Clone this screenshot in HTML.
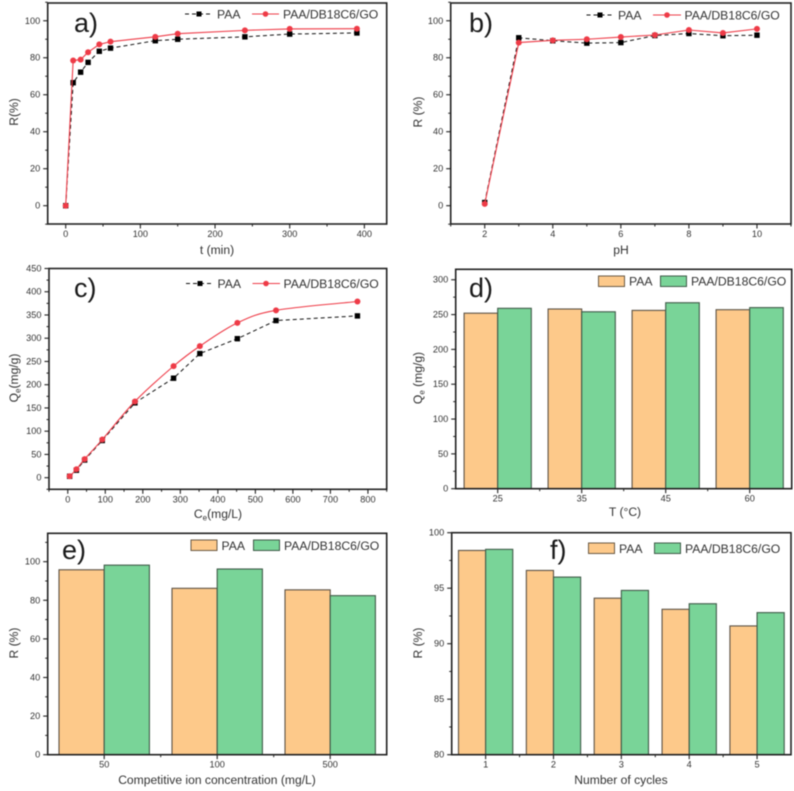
<!DOCTYPE html>
<html lang="en">
<head>
<meta charset="utf-8">
<title>Adsorption performance of PAA and PAA/DB18C6/GO</title>
<style>
html,body{margin:0;padding:0;background:#fff;width:794px;height:791px;overflow:hidden}
svg{display:block;filter:blur(0.55px)}
text{font-family:"Liberation Sans",sans-serif;fill:#333}
.tick{font-size:9.2px}
.title{font-size:12.1px;text-anchor:middle}
.leg{font-size:12.2px}
.letter{font-size:27px;fill:#1a1a1a}
</style>
</head>
<body>
<svg id="figure" xmlns="http://www.w3.org/2000/svg" width="794" height="791" viewBox="0 0 794 791">
  <rect width="794" height="791" fill="#fff"/>

  <g id="panel-a">
    <text class="letter" x="74" y="32">a)</text>
    <text class="title" x="217" y="254">t (min)</text>
    <text class="title" transform="translate(18 112) rotate(-90)">R(%)</text>
    <g>
      <line x1="185" x2="213" y1="14" y2="14" stroke="#111" stroke-dasharray="4 3"/>
      <rect x="196.5" y="11.5" width="5" height="5" fill="#000"/>
      <text class="leg" x="217" y="18.500">PAA</text>
      <line x1="252" x2="279" y1="14" y2="14" stroke="#ee3b47"/>
      <circle cx="265.500" cy="14" r="2.800" fill="#ee3b47"/>
      <text class="leg" x="283" y="18.500">PAA/DB18C6/GO</text>
    </g>
  </g>

  <g id="panel-b">
    <text class="letter" x="469" y="32">b)</text>
    <text class="title" x="621" y="254">pH</text>
    <text class="title" transform="translate(422 112) rotate(-90)">R (%)</text>
    <g>
      <line x1="586.500" x2="613" y1="15" y2="15" stroke="#111" stroke-dasharray="4 3"/>
      <rect x="597.500" y="12.500" width="5" height="5" fill="#000"/>
      <text class="leg" x="618" y="19.500">PAA</text>
      <line x1="653" x2="681" y1="15" y2="15" stroke="#ee3b47"/>
      <circle cx="667" cy="15" r="2.800" fill="#ee3b47"/>
      <text class="leg" x="684.500" y="19.500">PAA/DB18C6/GO</text>
    </g>
  </g>

  <g id="panel-c">
    <text class="letter" x="74" y="297">c)</text>
    <text class="title" x="218" y="518">C<tspan font-size="8" dy="2.500">e</tspan><tspan dy="-2.500">(mg/L)</tspan></text>
    <text class="title" transform="translate(18 378) rotate(-90)">Q<tspan font-size="8" dy="2.500">e</tspan><tspan dy="-2.500">(mg/g)</tspan></text>
    <g>
      <line x1="186" x2="213" y1="283.500" y2="283.500" stroke="#111" stroke-dasharray="4 3"/>
      <rect x="197.500" y="281" width="5" height="5" fill="#000"/>
      <text class="leg" x="217.500" y="288">PAA</text>
      <line x1="252.500" x2="280" y1="283.500" y2="283.500" stroke="#ee3b47"/>
      <circle cx="266" cy="283.500" r="2.800" fill="#ee3b47"/>
      <text class="leg" x="283.500" y="288">PAA/DB18C6/GO</text>
    </g>
  </g>

  <g id="panel-d">
    <text class="letter" x="469" y="297">d)</text>
    <text class="title" x="625" y="516">T (°C)</text>
    <text class="title" transform="translate(422 378) rotate(-90)">Q<tspan font-size="8" dy="2.500">e</tspan><tspan dy="-2.500"> (mg/g)</tspan></text>
    <g>
      <rect x="598.500" y="276" width="26" height="10.500" fill="#fdc98a" stroke="#6a5a45" stroke-width="1"/>
      <text class="leg" x="629" y="285.500">PAA</text>
      <rect x="660.500" y="276" width="26" height="10.500" fill="#79d498" stroke="#3f5a48" stroke-width="1"/>
      <text class="leg" x="691" y="285.500">PAA/DB18C6/GO</text>
    </g>
  </g>

  <g id="panel-e">
    <text class="letter" x="62" y="559">e)</text>
    <text class="title" x="217" y="784">Competitive ion concentration (mg/L)</text>
    <text class="title" transform="translate(18 643) rotate(-90)">R (%)</text>
    <g>
      <rect x="191" y="540" width="26" height="10.500" fill="#fdc98a" stroke="#6a5a45" stroke-width="1"/>
      <text class="leg" x="221.500" y="550">PAA</text>
      <rect x="253.500" y="540" width="26" height="10.500" fill="#79d498" stroke="#3f5a48" stroke-width="1"/>
      <text class="leg" x="284" y="550">PAA/DB18C6/GO</text>
    </g>
  </g>

  <g id="panel-f">
    <text class="letter" x="550" y="559">f)</text>
    <text class="title" x="621" y="784">Number of cycles</text>
    <text class="title" transform="translate(422 643) rotate(-90)">R (%)</text>
    <g>
      <rect x="588.500" y="543" width="26" height="10.500" fill="#fdc98a" stroke="#6a5a45" stroke-width="1"/>
      <text class="leg" x="619" y="553">PAA</text>
      <rect x="654.500" y="543" width="26" height="10.500" fill="#79d498" stroke="#3f5a48" stroke-width="1"/>
      <text class="leg" x="685" y="553">PAA/DB18C6/GO</text>
    </g>
  </g>
</svg>

<script>
// Panel a: contact time
const timeMinutes = [0, 10, 20, 30, 45, 60, 120, 150, 240, 300, 390];
const timePAA = [0, 66.5, 72.2, 77.5, 83.5, 85.2, 89.2, 90, 91.3, 92.8, 93.4];
const timeComposite = [0, 78.5, 79, 83, 87.2, 88.7, 91.3, 93, 94.8, 95.6, 95.7];
const timeXTicks = [0, 100, 200, 300, 400];
const percentYTicks = [0, 20, 40, 60, 80, 100];

// Panel b: pH
const phValues = [2, 3, 4, 5, 6, 7, 8, 9, 10];
const phPAA = [1.7, 90.8, 89.2, 87.9, 88.2, 92, 93.1, 91.9, 92.2];
const phComposite = [1, 88.2, 89.4, 90, 91.2, 92.3, 95, 93.4, 95.6];
const phXTicks = [2, 4, 6, 8, 10];

// Panel c: isotherm
const ceValues = [5, 23, 45, 92, 179, 282, 352, 452, 555, 772];
const cePAA = [3, 16, 38, 80, 161, 214, 267, 299, 338, 348];
const ceComposite = [3, 18, 40, 82, 164, 240, 283, 333, 360, 379];
const ceXTicks = [0, 100, 200, 300, 400, 500, 600, 700, 800];
const qeYTicks = [0, 50, 100, 150, 200, 250, 300, 350, 400, 450];

// Panel d: temperature
const tempCategories = ['25', '35', '45', '60'];
const tempPAA = [252, 258, 256, 257];
const tempComposite = [259, 254, 267, 260];
const tempYTicks = [0, 50, 100, 150, 200, 250, 300];

// Panel e: competitive ions
const ionCategories = ['50', '100', '500'];
const ionPAA = [95.8, 86.2, 85.4];
const ionComposite = [98.2, 96.2, 82.4];

// Panel f: reuse cycles
const cycleCategories = ['1', '2', '3', '4', '5'];
const cyclePAA = [98.4, 96.6, 94.1, 93.1, 91.6];
const cycleComposite = [98.5, 96.0, 94.8, 93.6, 92.8];
const cycleYTicks = [80, 85, 90, 95, 100];

const SVG_NS = 'http://www.w3.org/2000/svg';
const INK = '#222';
const RED = '#ee3b47';
const ORANGE = '#fdc98a';
const GREEN = '#79d498';

function linear(d0, d1, r0, r1) {
  return function (v) { return r0 + (v - d0) * (r1 - r0) / (d1 - d0); };
}

function shape(tag, parent, props) {
  const el = document.createElementNS(SVG_NS, tag);
  for (const k in props) el.setAttribute(k, props[k]);
  parent.appendChild(el);
  return el;
}

function drawFrame(g, box, id) {
  const el = shape('rect', g, { x: box.l, y: box.t, width: box.r - box.l, height: box.b - box.t, fill: 'none', stroke: INK, 'stroke-width': 1.6 });
  
  
}

function drawYAxis(g, box, y, ticks, dMin, dMax, id) {
  const step = ticks[1] - ticks[0];
  for (let v = ticks[0] - step / 2; v <= ticks[ticks.length - 1] + step / 2; v += step) {
    if (v < dMin || v > dMax) continue;
    const minor = shape('line', g, { x1: box.l - 2.5, x2: box.l, y1: y(v), y2: y(v), stroke: INK, 'stroke-width': 1 });
    
    
  }
  ticks.forEach(function (v) {
    const tick = shape('line', g, { x1: box.l - 4.5, x2: box.l, y1: y(v), y2: y(v), stroke: INK, 'stroke-width': 1.1 });
    
    
    const label = shape('text', g, { x: box.l - 7.5, y: y(v) + 3, 'text-anchor': 'end', class: 'tick' });
    
    
    label.textContent = String(v);
  });
}

function drawXAxis(g, box, x, ticks, dMin, dMax, id) {
  const step = ticks[1] - ticks[0];
  for (let v = ticks[0] - step / 2; v <= ticks[ticks.length - 1] + step / 2; v += step) {
    if (v < dMin || v > dMax) continue;
    const minor = shape('line', g, { x1: x(v), x2: x(v), y1: box.b, y2: box.b + 2.5, stroke: INK, 'stroke-width': 1 });
    
    
  }
  ticks.forEach(function (v) {
    const tick = shape('line', g, { x1: x(v), x2: x(v), y1: box.b, y2: box.b + 4.5, stroke: INK, 'stroke-width': 1.1 });
    
    
    const label = shape('text', g, { x: x(v), y: box.b + 13, 'text-anchor': 'middle', class: 'tick' });
    
    
    label.textContent = String(v);
  });
}

function straightPath(pts) {
  return pts.map(function (p, i) { return (i ? 'L' : 'M') + p[0].toFixed(2) + ' ' + p[1].toFixed(2); }).join(' ');
}

function smoothPath(pts) {
  let d = 'M' + pts[0][0].toFixed(2) + ' ' + pts[0][1].toFixed(2);
  for (let i = 0; i < pts.length - 1; i++) {
    const p0 = pts[Math.max(i - 1, 0)], p1 = pts[i], p2 = pts[i + 1], p3 = pts[Math.min(i + 2, pts.length - 1)];
    const c1x = p1[0] + (p2[0] - p0[0]) / 6, c1y = p1[1] + (p2[1] - p0[1]) / 6;
    const c2x = p2[0] - (p3[0] - p1[0]) / 6, c2y = p2[1] - (p3[1] - p1[1]) / 6;
    d += ' C' + c1x.toFixed(2) + ' ' + c1y.toFixed(2) + ' ' + c2x.toFixed(2) + ' ' + c2y.toFixed(2) + ' ' + p2[0].toFixed(2) + ' ' + p2[1].toFixed(2);
  }
  return d;
}

function drawPAASeries(g, x, y, xs, ys, id) {
  const pts = xs.map(function (v, i) { return [x(v), y(ys[i])]; });
  const line = shape('path', g, { d: straightPath(pts), fill: 'none', stroke: '#111', 'stroke-width': 1, 'stroke-dasharray': '4 3' });
  
  
  pts.forEach(function (p) {
    const m = shape('rect', g, { x: p[0] - 2.7, y: p[1] - 2.7, width: 5.4, height: 5.4, fill: '#000' });
    
    
  });
}

function drawCompositeSeries(g, x, y, xs, ys, smooth, id) {
  const pts = xs.map(function (v, i) { return [x(v), y(ys[i])]; });
  const line = shape('path', g, { d: smooth ? smoothPath(pts) : straightPath(pts), fill: 'none', stroke: RED, 'stroke-width': 1.1 });
  
  
  pts.forEach(function (p) {
    const m = shape('circle', g, { cx: p[0], cy: p[1], r: 3, fill: RED });
    
    
  });
}

function drawBars(g, box, y, cats, a, b, id) {
  const step = (box.r - box.l) / cats.length;
  const w = step * 0.4;
  const base = y.base;
  cats.forEach(function (c, i) {
    const cx = box.l + (i + 0.5) * step;
    const b1 = shape('rect', g, { x: cx - w, y: y(a[i]), width: w, height: y(base) - y(a[i]), fill: ORANGE, stroke: '#5c5245', 'stroke-width': 1.1 });
    
    
    const b2 = shape('rect', g, { x: cx, y: y(b[i]), width: w, height: y(base) - y(b[i]), fill: GREEN, stroke: '#3f5a48', 'stroke-width': 1.1 });
    
    
    const tick = shape('line', g, { x1: cx, x2: cx, y1: box.b, y2: box.b + 4.5, stroke: INK, 'stroke-width': 1.1 });
    
    
    const label = shape('text', g, { x: cx, y: box.b + 13, 'text-anchor': 'middle', class: 'tick' });
    
    
    label.textContent = c;
    if (i > 0) {
      const minor = shape('line', g, { x1: box.l + i * step, x2: box.l + i * step, y1: box.b, y2: box.b + 2.5, stroke: INK, 'stroke-width': 1 });
      
      
    }
  });
}

// Panel a
(function () {
  const g = document.getElementById('panel-a');
  const box = { l: 47.7, r: 386.7, t: 3, b: 224 };
  const x = linear(-24.1, 429.9, box.l, box.r);
  const y = linear(-9.9, 109.6, box.b, box.t);
  drawFrame(g, box, 'a');
  drawXAxis(g, box, x, timeXTicks, -24, 430, 'a');
  drawYAxis(g, box, y, percentYTicks, -10, 110, 'a');
  drawPAASeries(g, x, y, timeMinutes, timePAA, 'a');
  drawCompositeSeries(g, x, y, timeMinutes, timeComposite, false, 'a');
})();

// Panel b
(function () {
  const g = document.getElementById('panel-b');
  const box = { l: 450.7, r: 791, t: 3, b: 224 };
  const x = linear(1, 11, box.l, box.r);
  const y = linear(-9.9, 109.6, box.b, box.t);
  drawFrame(g, box, 'b');
  drawXAxis(g, box, x, phXTicks, 1, 11, 'b');
  drawYAxis(g, box, y, percentYTicks, -10, 110, 'b');
  drawPAASeries(g, x, y, phValues, phPAA, 'b');
  drawCompositeSeries(g, x, y, phValues, phComposite, false, 'b');
})();

// Panel c
(function () {
  const g = document.getElementById('panel-c');
  const box = { l: 49, r: 386.7, t: 268.5, b: 489.3 };
  const x = linear(-50, 850, box.l, box.r);
  const y = linear(-25, 450, box.b, box.t);
  drawFrame(g, box, 'c');
  drawXAxis(g, box, x, ceXTicks, -50, 850, 'c');
  drawYAxis(g, box, y, qeYTicks, -25, 450, 'c');
  drawPAASeries(g, x, y, ceValues, cePAA, 'c');
  drawCompositeSeries(g, x, y, ceValues, ceComposite, true, 'c');
})();

// Panel d
(function () {
  const g = document.getElementById('panel-d');
  const box = { l: 455.7, r: 791.7, t: 269.3, b: 488.7 };
  const y = linear(0, 315, box.b, box.t);
  y.base = 0;
  drawBars(g, box, y, tempCategories, tempPAA, tempComposite, 'd');
  drawFrame(g, box, 'd');
  drawYAxis(g, box, y, tempYTicks, 0, 315, 'd');
})();

// Panel e
(function () {
  const g = document.getElementById('panel-e');
  const box = { l: 47.7, r: 386.7, t: 533.3, b: 754.7 };
  const y = linear(0, 114.7, box.b, box.t);
  y.base = 0;
  drawBars(g, box, y, ionCategories, ionPAA, ionComposite, 'e');
  drawFrame(g, box, 'e');
  drawYAxis(g, box, y, percentYTicks, 0, 114.7, 'e');
})();

// Panel f
(function () {
  const g = document.getElementById('panel-f');
  const box = { l: 451.7, r: 791, t: 532.7, b: 754.7 };
  const y = linear(80, 100, box.b, box.t);
  y.base = 80;
  drawBars(g, box, y, cycleCategories, cyclePAA, cycleComposite, 'f');
  drawFrame(g, box, 'f');
  drawYAxis(g, box, y, cycleYTicks, 80, 100, 'f');
})();
</script>
</body>
</html>
